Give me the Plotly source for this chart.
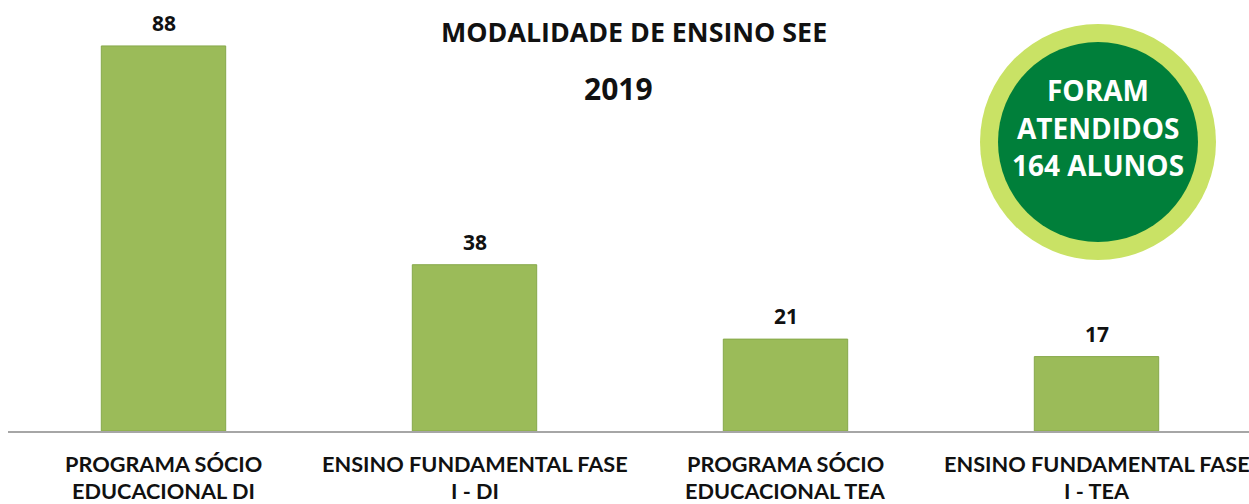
import plotly.graph_objects as go

categories = ["PROGRAMA SÓCIO<br>EDUCACIONAL DI", "ENSINO FUNDAMENTAL FASE<br>I - DI",
              "PROGRAMA SÓCIO<br>EDUCACIONAL TEA", "ENSINO FUNDAMENTAL FASE<br>I - TEA"]
values = [88, 38, 21, 17]
title_text = "MODALIDADE DE ENSINO SEE"
year_text = "2019"
badge_lines = ["FORAM", "ATENDIDOS", "164 ALUNOS"]

W, H = 1249, 504
L, B = 8, 73
plot_w = W - L
plot_h = H - B
ymax = 98.5

def px_x(p):
    return (p - L) / plot_w

def px_y(p):
    return (H - B - p) / plot_h

x_idx = list(range(len(categories)))

fig = go.Figure(go.Bar(
    x=x_idx, y=values, width=0.40,
    marker=dict(color="#9BBB59", line=dict(color="#86A84A", width=1)),
    hoverinfo="skip",
))

for i, v in zip(x_idx, values):
    fig.add_annotation(x=i, y=v, xref="x", yref="y", text=f"<b>{v}</b>", showarrow=False,
                       xanchor="center", yanchor="middle", yshift=23,
                       font=dict(family="Open Sans", size=21, color="#111111"))

# category labels (two lines each)
for i, c in zip(x_idx, categories):
    for line, py in zip(c.split("<br>"), [464, 491]):
        fig.add_annotation(x=i, xref="x", yref="paper", y=px_y(py), text=f"<b>{line}</b>",
                           showarrow=False, xanchor="center", yanchor="middle",
                           font=dict(family="Lato", size=21.7, color="#111111"))

fig.update_layout(
    width=W, height=H,
    margin=dict(l=L, r=0, t=0, b=B, autoexpand=False),
    paper_bgcolor="white", plot_bgcolor="white",
    showlegend=False,
    xaxis=dict(range=[-0.5, -0.5 + plot_w / 311.0], showticklabels=False,
               showgrid=False, zeroline=False, showline=True, linecolor="#A6A6A6",
               linewidth=2, ticks=""),
    yaxis=dict(range=[0, ymax], visible=False, showgrid=False, zeroline=False),
)

# title
fig.add_annotation(xref="paper", yref="paper", x=px_x(634), y=px_y(31), text=f"<b>{title_text}</b>",
                   showarrow=False, xanchor="center", yanchor="middle",
                   font=dict(family="Open Sans", size=26.8, color="#111111"))
fig.add_annotation(xref="paper", yref="paper", x=px_x(618), y=px_y(89), text=f"<b>{year_text}</b>",
                   showarrow=False, xanchor="center", yanchor="middle",
                   font=dict(family="Open Sans", size=30, color="#111111"))

# badge circles
cx, cy = 1098, 142
for r, col in [(118, "#C9E265"), (100, "#007F3A")]:
    fig.add_shape(type="circle", xref="paper", yref="paper",
                  x0=px_x(cx - r), x1=px_x(cx + r), y0=px_y(cy + r), y1=px_y(cy - r),
                  fillcolor=col, line=dict(width=0), layer="above")

for t, py in zip(badge_lines, [90, 128, 165]):
    fig.add_annotation(xref="paper", yref="paper", x=px_x(cx), y=px_y(py),
                       text=f"<b>{t}</b>", showarrow=False, xanchor="center", yanchor="middle",
                       font=dict(family="Open Sans", size=28, color="white"))

fig.write_html("out.html", config={"displayModeBar": False},
               post_script="document.body.style.margin='0';")
